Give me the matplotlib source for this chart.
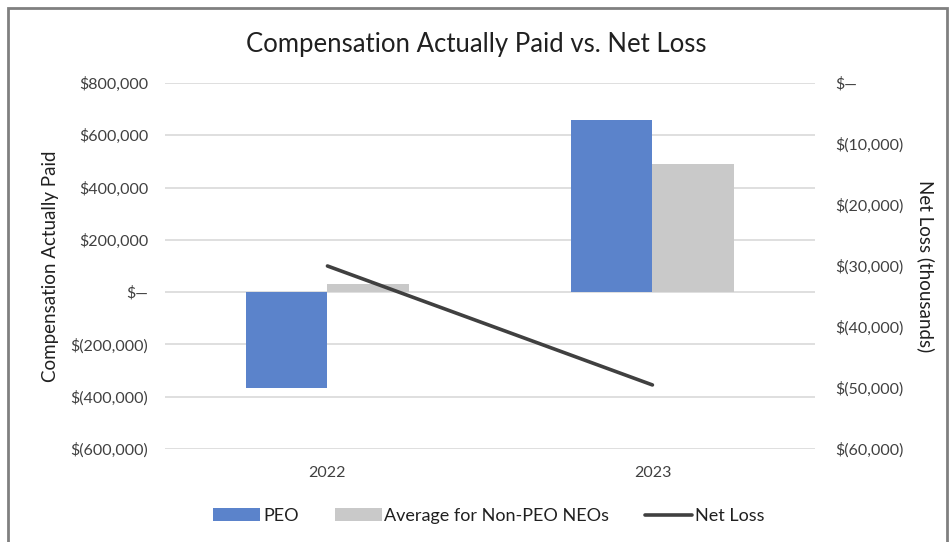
import numpy as np
import matplotlib
matplotlib.use("Agg")
import matplotlib.pyplot as plt
from matplotlib.patches import Rectangle
from matplotlib.ticker import FuncFormatter

years = ["2022", "2023"]
peo_cap = [-367000, 660000]
non_peo_cap = [31000, 489000]
net_loss = [-30000, -49500]  # thousands

plt.rcParams['font.family'] = ['Lato', 'DejaVu Sans']

def money(v, pos=None):
    if abs(v) < 1e-6:
        return "$\u2014"
    if v < 0:
        return f"$({abs(v):,.0f})"
    return f"${v:,.0f}"

fig = plt.figure(figsize=(9.53, 5.42), dpi=100)
ax = fig.add_axes([0.1731, 0.1716, 0.682, 0.6753])

x = np.arange(len(years))
w = 0.252
b1 = ax.bar(x - w / 2, peo_cap, w, color="#5b83cb", label="PEO", zorder=2)
b2 = ax.bar(x + w / 2, non_peo_cap, w, color="#c9c9c9", label="Average for Non-PEO NEOs", zorder=2)

ax.set_xlim(-0.5, 1.5)
ax.set_ylim(-600000, 800000)
ax.set_yticks(np.arange(-600000, 800001, 200000))
ax.yaxis.set_major_formatter(FuncFormatter(money))
ax.set_xticks(x)
ax.set_xticklabels(years)
ax.grid(axis="y", color="#d9d9d9", linewidth=1.2, zorder=0)
ax.set_axisbelow(True)
for s in ax.spines.values():
    s.set_visible(False)
ax.tick_params(length=0, labelsize=11.5, colors="#404040")
ax.tick_params(axis="y", pad=12)
ax.tick_params(axis="x", pad=12)
ax.set_ylabel("Compensation Actually Paid", fontsize=13.5, color="#202020", labelpad=8)

ax2 = ax.twinx()
line, = ax2.plot(x, net_loss, color="#404040", linewidth=2.6, label="Net Loss", solid_capstyle="round")
ax2.set_ylim(-60000, 0)
ax2.set_yticks(np.arange(-60000, 1, 10000))
ax2.yaxis.set_major_formatter(FuncFormatter(money))
for s in ax2.spines.values():
    s.set_visible(False)
ax2.tick_params(length=0, labelsize=11.5, colors="#404040", pad=15)
ax2.set_ylabel("Net Loss (thousands)", fontsize=13.5, color="#202020", rotation=270, labelpad=22)

fig.text(0.5, 0.918, "Compensation Actually Paid vs. Net Loss", ha="center", va="center",
         fontsize=18.5, color="#202020")

fig.legend(handles=[b1, b2, line], loc="center", bbox_to_anchor=(0.513, 0.048), ncol=3,
           frameon=False, fontsize=13, handlelength=2.6, handletextpad=0.15, columnspacing=2.0,
           labelcolor="#202020")

fig.patches.append(Rectangle((8 / 953, -0.05), 939 / 953, 1.05 - 8 / 542, transform=fig.transFigure,
                             fill=False, edgecolor="#808080", linewidth=2))

fig.savefig("out.png", dpi=100)
